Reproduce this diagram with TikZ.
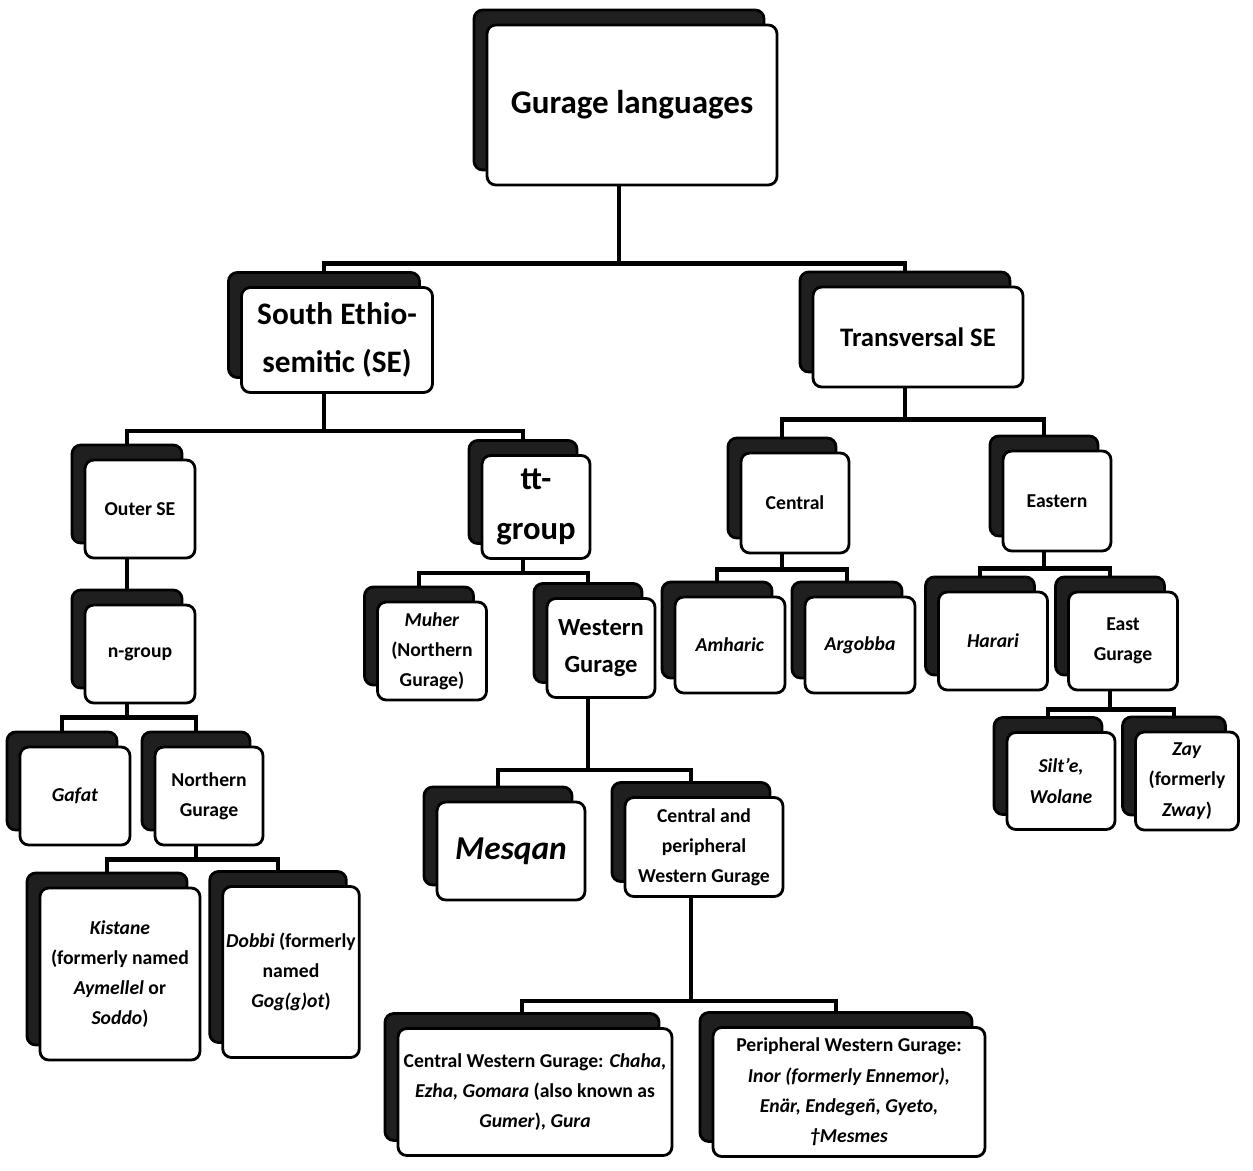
\documentclass[tikz,border=0pt]{standalone}
\usepackage{fontspec}
\setmainfont{Carlito}
\usetikzlibrary{shadows}

\tikzset{
  gbox/.style={draw=black, line width=1.6pt, fill=white, rounded corners=5pt,
    align=center, inner sep=2pt,
    general shadow={fill=black!88, draw=black, shadow xshift=-0.26cm, shadow yshift=0.3cm},
    font=\fontsize{11.2}{17.2}\selectfont\bfseries},
  wh/.style 2 args={minimum width=#1*0.02cm, minimum height=#2*0.02cm},
  fs/.style 2 args={font=\fontsize{#1}{#2}\selectfont\bfseries},
  link/.style={line width=2.6pt},
  bk/.style={xshift=-0.26cm},
  up/.style={yshift=0.3cm},
}

\begin{document}
\begin{tikzpicture}[x=0.02cm,y=-0.02cm]
        \useasboundingbox (0,0) rectangle (1253,1170);
        %% Top
        \node[gbox,wh={290}{160},fs={18.8}{27}] (root) at (632,105) {Gurage languages};
        %% Second level
        \node[gbox,wh={191}{105},fs={17.8}{27}] (se) at (337,340) {South Ethio-\\semitic (SE)};
        \node[gbox,wh={210}{100},fs={15.2}{23}] (tse) at (918,337) {Transversal SE};
        %% South Ethiosemitic branch
        \node[gbox,wh={110}{98}] (outer) at (140,509) {Outer SE};
        \node[gbox,wh={108}{103},fs={18.6}{28}] (tt) at (536,507) {tt-\\group};
        \node[gbox,wh={110}{98}] (ngroup) at (140,654) {n-group};
        \node[gbox,wh={110}{98}] (gafat) at (75,796) {\textit{Gafat}};
        \node[gbox,wh={108}{98}] (ngur) at (209,796) {Northern\\Gurage};
        \node[gbox,wh={160}{172}] (kistane) at (120,974) {\textit{Kistane}\\(formerly named\\\textit{Aymellel} or\\\textit{Soddo})};
        \node[gbox,wh={136}{171}] (dobbi) at (291,972) {\textit{Dobbi} (formerly\\named\\\textit{Gog(g)ot})};
        \node[gbox,wh={109}{98}] (muher) at (432,651) {\textit{Muher}\\(Northern\\Gurage)};
        \node[gbox,wh={108}{99},fs={14}{21}] (western) at (601,648) {Western\\Gurage};
        \node[gbox,wh={148}{98},fs={19}{29}] (mesqan) at (511,851) {\textit{Mesqan}};
        \node[gbox,wh={158}{99}] (cpwg) at (704,847) {Central and\\peripheral\\Western Gurage};
        \node[gbox,wh={274}{127}] (cwg) at (535,1092) {Central Western Gurage: \textit{Chaha,}\\\textit{Ezha, Gomara} (also known as\\\textit{Gumer}), \textit{Gura}};
        \node[gbox,wh={272}{129}] (pwg) at (849,1092) {Peripheral Western Gurage:\\\textit{Inor (formerly Ennemor),}\\\textit{Enär, Endegeñ, Gyeto,}\\\textit{†Mesmes}};
        %% Transversal branch
        \node[gbox,wh={108}{100}] (central) at (795,503) {Central};
        \node[gbox,wh={108}{100}] (eastern) at (1057,501) {Eastern};
        \node[gbox,wh={110}{96}] (amharic) at (730,645) {\textit{Amharic}};
        \node[gbox,wh={110}{96}] (argobba) at (860,645) {\textit{Argobba}};
        \node[gbox,wh={109}{98}] (harari) at (993,641) {\textit{Harari}};
        \node[gbox,wh={109}{98}] (eastgur) at (1123,641) {East\\Gurage};
        \node[gbox,wh={108}{97}] (silte) at (1061,781) {\textit{Silt’e,}\\\textit{Wolane}};
        \node[gbox,wh={103}{98}] (zay) at (1187,781) {\textit{Zay}\\(formerly\\\textit{Zway})};

        %% connectors
        \draw[link] ([bk]root.south) -- ++(0,77) coordinate (j1);
        \draw[link] (j1) -| ([bk,up]se.north);
        \draw[link] (j1) -| ([bk,up]tse.north);
        \draw[link] ([bk]se.south) -- ++(0,37) coordinate (j2);
        \draw[link] (j2) -| ([bk,up]outer.north);
        \draw[link] (j2) -| ([bk,up]tt.north);
        \draw[link] ([bk]outer.south) -- ([bk,up]ngroup.north);
        \draw[link] ([bk]ngroup.south) -- ++(0,13) coordinate (j3);
        \draw[link] (j3) -| ([bk,up]gafat.north);
        \draw[link] (j3) -| ([bk,up]ngur.north);
        \draw[link] ([bk]ngur.south) -- ++(0,13) coordinate (j4);
        \draw[link] (j4) -| ([bk,up]kistane.north);
        \draw[link] (j4) -| ([bk,up]dobbi.north);
        \draw[link] ([bk]tt.south) -- ++(0,13) coordinate (j5);
        \draw[link] (j5) -| ([bk,up]muher.north);
        \draw[link] (j5) -| ([bk,up]western.north);
        \draw[link] ([bk]western.south) -- ++(0,71) coordinate (j6);
        \draw[link] (j6) -| ([bk,up]mesqan.north);
        \draw[link] (j6) -| ([bk,up]cpwg.north);
        \draw[link] ([bk]cpwg.south) -- ++(0,103) coordinate (j7);
        \draw[link] (j7) -| ([bk,up]cwg.north);
        \draw[link] (j7) -| ([bk,up]pwg.north);
        \draw[link] ([bk]tse.south) -- ++(0,31) coordinate (j8);
        \draw[link] (j8) -| ([bk,up]central.north);
        \draw[link] (j8) -| ([bk,up]eastern.north);
        \draw[link] ([bk]central.south) -- ++(0,15) coordinate (j9);
        \draw[link] (j9) -| ([bk,up]amharic.north);
        \draw[link] (j9) -| ([bk,up]argobba.north);
        \draw[link] ([bk]eastern.south) -- ++(0,16) coordinate (j10);
        \draw[link] (j10) -| ([bk,up]harari.north);
        \draw[link] (j10) -| ([bk,up]eastgur.north);
        \draw[link] ([bk]eastgur.south) -- ++(0,18) coordinate (j11);
        \draw[link] (j11) -| ([bk,up]silte.north);
        \draw[link] (j11) -| ([bk,up]zay.north);
\end{tikzpicture}
\end{document}
